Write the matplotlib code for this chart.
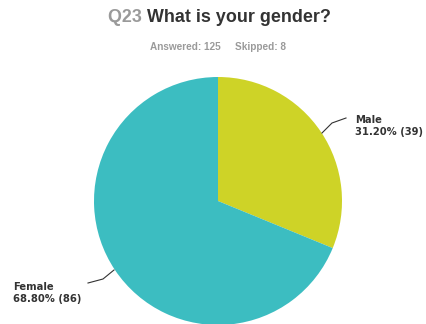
import matplotlib.pyplot as plt

categorias = ["Male", "Female"]
respuestas = [39, 86]
porcentajes = [31.20, 68.80]
colores = ["#CED327", "#3CBDC1"]

W, H = 427, 324
fig = plt.figure(figsize=(W / 100, H / 100), dpi=100)
ax = fig.add_axes([0, 0, 1, 1])

# pie in pixel units, y measured from the bottom
cx, cy, r = 218, H - 201, 124
ax.pie(
    respuestas,
    colors=colores,
    startangle=90,
    counterclock=False,
    center=(cx, cy),
    radius=r,
    wedgeprops={"linewidth": 0},
)
ax.set_xlim(0, W)
ax.set_ylim(0, H)
ax.set_aspect("equal")
ax.axis("off")

# title
fig.text(147 / W, 1 - 18 / H, "Q23 ", color="#9a9a9a", fontsize=12.9, fontweight="bold",
         family="Liberation Sans", ha="right", va="center")
fig.text(147 / W, 1 - 18 / H, "What is your gender?", color="#333333", fontsize=12.9,
         fontweight="bold", family="Liberation Sans", ha="left", va="center")
fig.text(150 / W, 1 - 47 / H, "Answered: 125", color="#9a9a9a", fontsize=7.2,
         fontweight="bold", family="Liberation Sans", ha="left", va="center")
fig.text(235 / W, 1 - 47 / H, "Skipped: 8", color="#9a9a9a", fontsize=7.2,
         fontweight="bold", family="Liberation Sans", ha="left", va="center")

# labels with leader lines
ax.text(355, H - 126, f"{categorias[0]}\n{porcentajes[0]:.2f}% ({respuestas[0]})",
        fontsize=7.2, fontweight="bold", color="#333333", va="center", ha="left",
        linespacing=1.3)
ax.plot([322, 332, 346], [H - 133, H - 123, H - 118], color="#333333", lw=0.8)

ax.text(13, H - 293, f"{categorias[1]}\n{porcentajes[1]:.2f}% ({respuestas[1]})",
        fontsize=7.2, fontweight="bold", color="#333333", va="center", ha="left",
        linespacing=1.2)
ax.plot([88, 103, 114], [H - 283, H - 279, H - 270], color="#333333", lw=0.8)

fig.savefig("out.png", dpi=100)
